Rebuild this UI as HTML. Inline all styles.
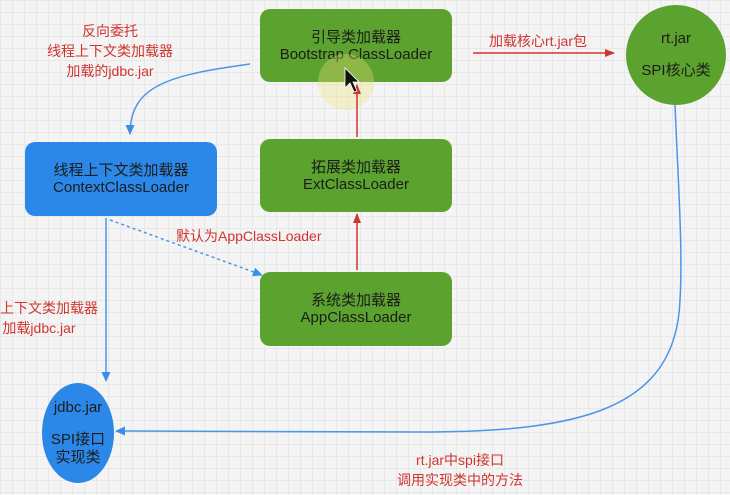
<!DOCTYPE html>
<html><head><meta charset="utf-8"><style>
html,body{margin:0;padding:0}
body{width:730px;height:495px;overflow:hidden;background-color:#f4f4f4;
background-image:linear-gradient(#e8e8e8 1px,transparent 1px),linear-gradient(90deg,#e8e8e8 1px,transparent 1px);
background-size:12px 12px;position:relative;font-family:"Liberation Sans","Noto Sans CJK SC",sans-serif}
.box{position:absolute;border-radius:10px;display:flex;flex-direction:column;align-items:center;justify-content:center;color:#1c1c1c;font-size:15px;line-height:17px;text-align:center}
.g{background:#5ba22e}
.b{background:#2c88e8}
.lbl{position:absolute;color:#d0342f;font-size:14px;line-height:20px;text-align:center;white-space:nowrap}
.circ{position:absolute;border-radius:50%;display:flex;flex-direction:column;align-items:center;justify-content:center;color:#1c1c1c;font-size:15px;line-height:18px;text-align:center}
svg{position:absolute;left:0;top:0}
</style></head><body>
<div class="box g" style="left:260px;top:9px;width:192px;height:73px">引导类加载器<br>Bootstrap ClassLoader</div>
<div class="box g" style="left:260px;top:139px;width:192px;height:73px">拓展类加载器<br>ExtClassLoader</div>
<div class="box g" style="left:260px;top:272px;width:192px;height:74px">系统类加载器<br>AppClassLoader</div>
<div class="box b" style="left:25px;top:142px;width:192px;height:74px">线程上下文类加载器<br>ContextClassLoader</div>
<div class="circ g" style="left:626px;top:5px;width:100px;height:100px"><div>rt.jar</div><div style="margin-top:14px">SPI核心类</div></div>
<div class="circ b" style="left:42px;top:383px;width:72px;height:100px"><div>jdbc.jar</div><div style="margin-top:14px">SPI接口<br>实现类</div></div>
<div style="position:absolute;left:318px;top:54px;width:56px;height:56px;border-radius:50%;background:rgba(235,225,120,0.35)"></div>
<div class="lbl" style="left:40px;top:21px;width:140px">反向委托<br>线程上下文类加载器<br>加载的jdbc.jar</div>
<div class="lbl" style="left:489px;top:31px">加载核心rt.jar包</div>
<div class="lbl" style="left:176px;top:226px">默认为AppClassLoader</div>
<div class="lbl" style="left:0px;top:298px;width:78px">上下文类加载器<br>加载jdbc.jar</div>
<div class="lbl" style="left:395px;top:450px;width:130px">rt.jar中spi接口<br>调用实现类中的方法</div>
<svg width="730" height="495">
<defs>
<marker id="ar" markerWidth="10" markerHeight="8" refX="9" refY="4" orient="auto" markerUnits="userSpaceOnUse"><path d="M0,0 L10,4 L0,8 Z" fill="#d0342f"/></marker>
<marker id="ab" markerWidth="10" markerHeight="9" refX="9" refY="4.5" orient="auto" markerUnits="userSpaceOnUse"><path d="M0,0 L10,4.5 L0,9 Z" fill="#3b8fe6"/></marker>
</defs>
<g stroke="#d0342f" stroke-width="1.5" fill="none">
<line x1="357" y1="270" x2="357" y2="214" marker-end="url(#ar)"/>
<line x1="357" y1="137" x2="357" y2="85" marker-end="url(#ar)"/>
<line x1="473" y1="53" x2="614" y2="53" marker-end="url(#ar)"/>
</g>
<g stroke="#4a96e8" stroke-width="1.5" fill="none">
<path d="M250,64 C170,75 130,85 130,134" marker-end="url(#ab)"/>
<line x1="106" y1="218" x2="106" y2="381" marker-end="url(#ab)"/>
<path d="M110,220 L262,275" stroke-dasharray="3,3" marker-end="url(#ab)"/>
<path d="M675,105 C678,180 683,250 680,300 C676,410 580,432 420,432 L116,431" marker-end="url(#ab)"/>
</g>
<path d="M345,68 L345,88 L350,83 L354,92 L357,91 L353,82 L359,82 Z" fill="#111" stroke="#fff" stroke-width="0.8"/>
</svg>
</body></html>
